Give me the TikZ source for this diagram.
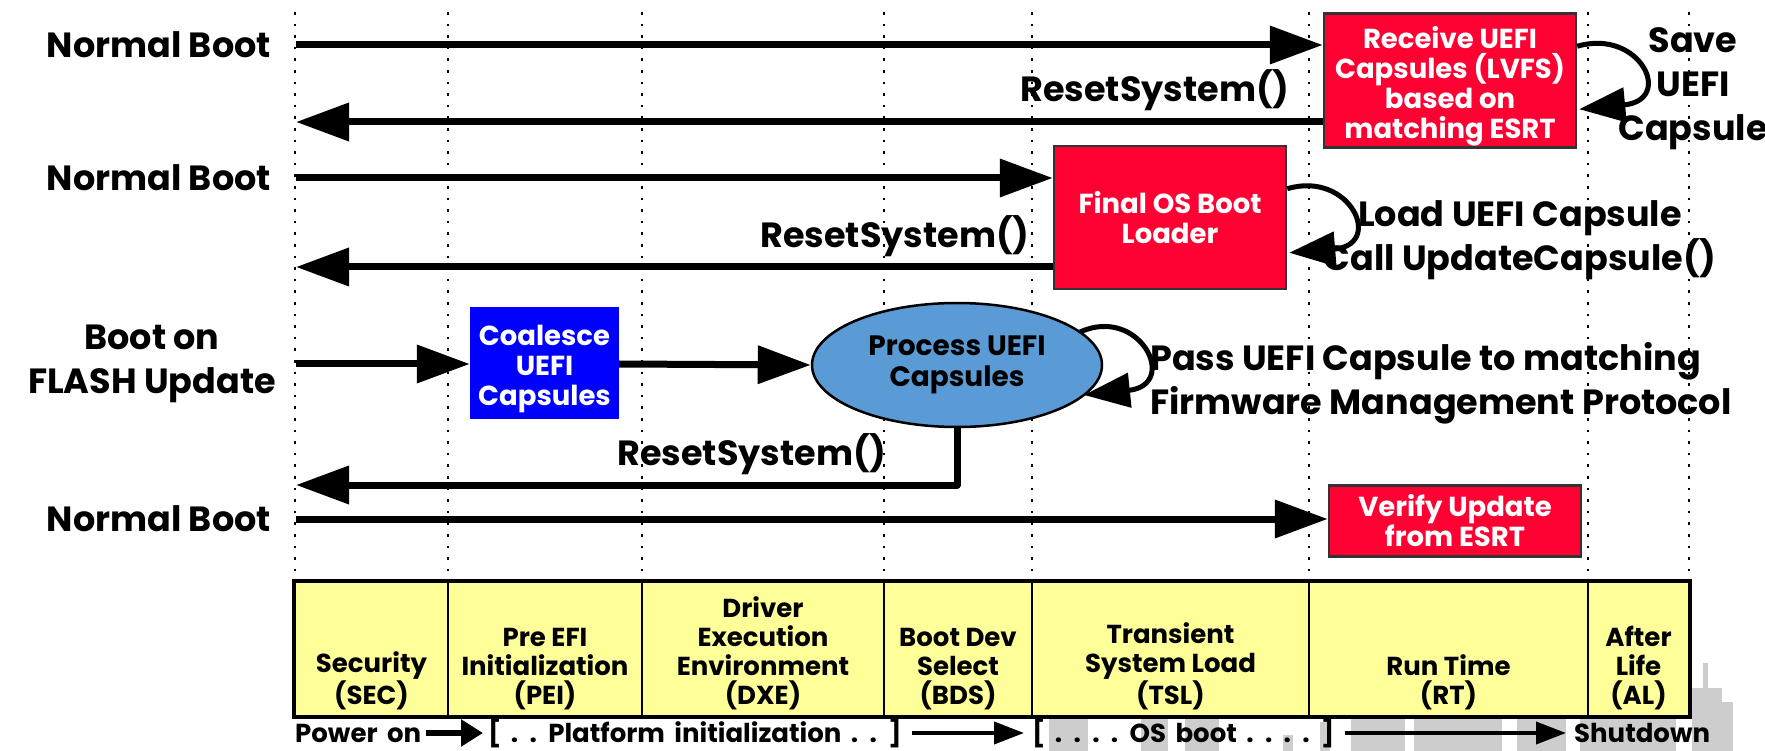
\documentclass[tikz,border=0pt]{standalone}
\usepackage{fontspec}
\setmainfont{Poppins}
\usetikzlibrary{arrows.meta,shapes.geometric,calc}
\definecolor{redbox}{RGB}{255,0,51}
\definecolor{bluebox}{RGB}{0,0,255}
\definecolor{ellblue}{RGB}{91,155,213}
\definecolor{cellyellow}{RGB}{255,255,153}
\definecolor{city}{RGB}{205,205,205}
\newcommand{\botfont}{\fontsize{26}{29}\selectfont\bfseries\spaceskip=9.5pt\relax}
\begin{document}
\begin{tikzpicture}[x=1pt,y=-1pt,
  lbl/.style={font=\fontsize{35}{44}\selectfont\bfseries, inner sep=0pt, align=center},
  boxtxt/.style={font=\fontsize{27.5}{30}\selectfont\bfseries, text=white, align=center, inner sep=0pt},
  rbox/.style={boxtxt, draw=black!80, line width=2.5pt, fill=redbox},
  bbox/.style={boxtxt, fill=bluebox},
  ell/.style={ellipse, draw=black, line width=2.5pt, fill=ellblue, font=\fontsize{28}{31}\selectfont\bfseries, align=center, inner sep=0pt},
  bigarr/.style={line width=7pt, -{Triangle[length=53pt,width=37pt]}},
  looparr/.style={line width=5pt, -{Triangle[length=46pt,width=34pt]}},
  dotline/.style={line width=2.6pt, dash pattern=on 2.6pt off 9pt},
  cell/.style={draw=black, line width=2.5pt, fill=cellyellow, minimum height=134pt, inner sep=0pt},
  celltxt/.style={font=\fontsize{26}{29}\selectfont\bfseries, align=center, inner sep=0pt},
  bot/.style={font=\botfont, inner ysep=0pt, inner xsep=0pt},
  heavyarr/.style={line width=6pt, -{Triangle[length=22pt,width=26pt]}, shorten <=5pt, shorten >=5pt},
  thinarr/.style={line width=4pt, -{Triangle[length=30pt,width=22pt]}, shorten <=10pt, shorten >=8pt},
]
\useasboundingbox (0,0) rectangle (1765,751);
% skyline watermark
\fill[city] (1049,700) rectangle (1088,751);
\fill[city] (1141,705) rectangle (1168,751);
\fill[city] (1185,712) rectangle (1219,751);
\fill[city] (1283,735) rectangle (1293,751);
\fill[city] (1320,722) rectangle (1330,751);
\fill[city] (1351,700) rectangle (1405,751);
\fill[city] (1414,700) rectangle (1502,751);
\fill[city] (1517,700) rectangle (1566,751);
\fill[city] (1580,700) rectangle (1676,751);
\fill[city] (1692,688) rectangle (1722,751);
\fill[city] (1692,702) rectangle (1733,751);
\fill[city] (1703,663) rectangle (1708,690);

% left labels
\node[lbl, anchor=east] (nb1) at (271,45) {Normal Boot};
\node[lbl, anchor=east] (nb2) at (271,178) {Normal Boot};
\node[lbl] (flash) at (152,364) {Boot on\\FLASH Update};
\node[lbl, anchor=east] (nb4) at (271,519) {Normal Boot};
\node[lbl] (rs1) at (1155,90) {ResetSystem()};
\node[lbl] (rs2) at (895,236) {ResetSystem()};
\node[lbl] (rs3) at (752,454) {ResetSystem()};
\node[lbl] (save) at (1693,89) {Save\\UEFI\\Capsule};
\node[lbl] (load) at (1520,240) {Load UEFI Capsule\\Call UpdateCapsule()};
\node[lbl, align=left, anchor=west] (pass) at (1150,383) {Pass UEFI Capsule to matching\\Firmware Management Protocol};

% dotted phase lines
\foreach \x in {295,448,642,884,1032,1309,1588,1689}
  \draw[dotline] (\x,12) -- (\x,582);

% boxes
\node[rbox, minimum width=252pt, minimum height=134pt] (recv) at (1450,80.5) {};
\node[boxtxt] (recvtxt) at (1450,86) {Receive UEFI\\Capsules (LVFS)\\based on\\matching ESRT};
\node[rbox, minimum width=232pt, minimum height=143pt] (final) at (1170,217.5) {Final OS Boot\\Loader};
\node[bbox, minimum width=149pt, minimum height=112pt] (coal) at (544.5,363) {};
\node[boxtxt] (coaltxt) at (544.5,369) {Coalesce\\UEFI\\Capsules};
\node[ell, minimum width=290pt, minimum height=124pt] (proc) at (957,365) {Process UEFI\\Capsules};
\node[rbox, minimum width=252pt, minimum height=71pt] (verify) at (1455,521) {Verify Update\\from ESRT};

% arrow end coordinates at left boundary
\coordinate (a1) at (296,45);
\coordinate (a2) at (296,122);
\coordinate (a3) at (296,178);
\coordinate (a4) at (296,267);
\coordinate (a5) at (296,364);
\coordinate (a6) at (296,485);
\coordinate (a7) at (296,519);

\draw[bigarr] (a1) -- (a1 -| recv.west);
\draw[bigarr] (a2 -| recv.west) -- (a2);
\draw[bigarr] (a3) -- (a3 -| final.west);
\draw[bigarr] (a4 -| final.west) -- (a4);
\draw[bigarr] (a5) -- (a5 -| coal.west);
\draw[bigarr] (a5 -| coal.east) -- (proc.west);
\draw[bigarr, line join=round] (proc.south) -- (proc.south |- a6) -- (a6);
\draw[bigarr] (a7) -- (a7 -| verify.west);

% self loops
\draw[looparr] ($(recv.north east)+(0,34)$) .. controls (1640,28) and (1675,100) .. ($(recv.north east)+(2,97)$);
\draw[looparr] ($(final.north east)+(0,44)$) .. controls (1350,170) and (1385,245) .. ($(final.north east)+(2,108)$);
\draw[looparr] (1080,332) .. controls (1140,305) and (1180,385) .. (1084,395);

% phase table
\node[cell, minimum width=153pt] (c1) at (371.5,649) {};
\node[cell, minimum width=194pt] (c2) at (545,649) {};
\node[cell, minimum width=242pt] (c3) at (763,649) {};
\node[cell, minimum width=148pt] (c4) at (958,649) {};
\node[cell, minimum width=277pt] (c5) at (1170.5,649) {};
\node[cell, minimum width=279pt] (c6) at (1448.5,649) {};
\node[cell, minimum width=101pt] (c7) at (1638.5,649) {};
\draw[line width=3pt] (c1.north west) rectangle (c7.south east);
\node[celltxt, anchor=south] (t1) at ($(c1.south)+(0,-7)$) {Security\\(SEC)};
\node[celltxt, anchor=south] (t2) at ($(c2.south)+(0,-7)$) {Pre EFI\\Initialization\\(PEI)};
\node[celltxt, anchor=south] (t3) at ($(c3.south)+(0,-7)$) {Driver\\Execution\\Environment\\(DXE)};
\node[celltxt, anchor=south] (t4) at ($(c4.south)+(0,-7)$) {Boot Dev\\Select\\(BDS)};
\node[celltxt, anchor=south] (t5) at ($(c5.south)+(0,-7)$) {Transient\\System Load\\(TSL)};
\node[celltxt, anchor=south] (t6) at ($(c6.south)+(0,-7)$) {Run Time\\(RT)};
\node[celltxt, anchor=south] (t7) at ($(c7.south)+(0,-7)$) {After\\Life\\(AL)};

% bottom line
\node[bot, anchor=west] (pwr) at (295,733) {Power on};
\node[bot, anchor=west] (plat) at (488,733) {[ . . Platform initialization . . ]};
\node[bot, anchor=west] (osb) at (1032,733) {[ . . . . OS boot . . . . ]};
\node[bot, anchor=west] (shut) at (1574,733) {Shutdown};
\draw[heavyarr] (pwr) -- (plat);
\draw[thinarr] (plat) -- (osb);
\draw[thinarr] (osb) -- (shut);
\end{tikzpicture}
\end{document}
